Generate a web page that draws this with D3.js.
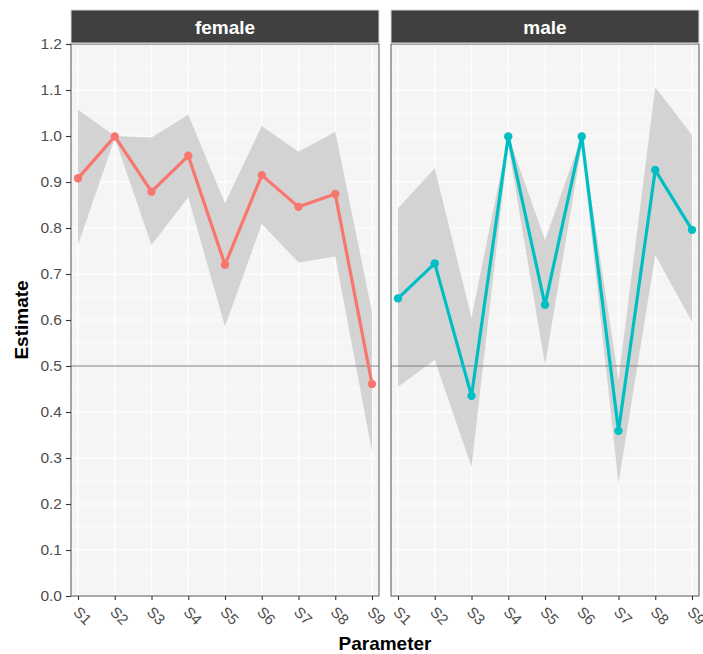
<!DOCTYPE html>
<html>
<head>
<meta charset="utf-8">
<script src="https://cdn.jsdelivr.net/npm/d3@7"></script>
<style>
  body { margin: 0; background: #fff; }
  text { font-family: "Liberation Sans", Arial, sans-serif; }
</style>
</head>
<body>
<svg id="chart" width="703" height="654"></svg>
<script>
// data
var params = ["S1", "S2", "S3", "S4", "S5", "S6", "S7", "S8", "S9"];
var panels = ["female", "male"];
var femaleEst = [0.908, 0.999, 0.879, 0.957, 0.720, 0.915, 0.846, 0.874, 0.461];
var femaleLo  = [0.763, 0.995, 0.763, 0.867, 0.586, 0.809, 0.725, 0.738, 0.314];
var femaleHi  = [1.057, 1.000, 0.997, 1.046, 0.854, 1.022, 0.966, 1.009, 0.618];
var maleEst   = [0.647, 0.723, 0.435, 0.999, 0.633, 0.999, 0.359, 0.926, 0.796];
var maleLo    = [0.455, 0.513, 0.281, 0.980, 0.502, 0.980, 0.245, 0.741, 0.596];
var maleHi    = [0.843, 0.930, 0.605, 1.000, 0.774, 1.000, 0.470, 1.106, 1.002];
var yTicks = [0.0, 0.1, 0.2, 0.3, 0.4, 0.5, 0.6, 0.7, 0.8, 0.9, 1.0, 1.1, 1.2];
var refLine = 0.5;
var colors = ["#F8766D", "#00BFC4"];

var series = [
    { est: femaleEst, lo: femaleLo, hi: femaleHi },
    { est: maleEst, lo: maleLo, hi: maleHi }
];

var svg = d3.select("#chart");

// panel geometry
var panelTop = 44, panelBottom = 596, panelW = 308;
var panelLeft = [71, 391];
var stripTop = 10;

var y = d3.scaleLinear().domain([0, 1.2]).range([panelBottom, panelTop]);
var x = d3.scalePoint().domain(params).range([7, panelW - 7]);

panels.forEach(function (name, p) {
    var s = series[p];
    var g = svg.append("g").attr("transform", "translate(" + panelLeft[p] + ",0)");

    // background
    g.append("rect")
        .attr("x", 0).attr("y", panelTop)
        .attr("width", panelW).attr("height", panelBottom - panelTop)
        .attr("fill", "#F5F5F5");

    // minor grid
    var minor = d3.range(0.05, 1.2, 0.1);
    g.selectAll(".minor").data(minor).enter().append("line")
        .attr("x1", 0).attr("x2", panelW)
        .attr("y1", function (d) { return y(d); })
        .attr("y2", function (d) { return y(d); })
        .attr("stroke", "#fff").attr("stroke-width", 0.6);

    // major grid
    g.selectAll(".majorY").data(yTicks).enter().append("line")
        .attr("x1", 0).attr("x2", panelW)
        .attr("y1", function (d) { return y(d); })
        .attr("y2", function (d) { return y(d); })
        .attr("stroke", "#fff").attr("stroke-width", 1.2);
    g.selectAll(".majorX").data(params).enter().append("line")
        .attr("x1", function (d) { return x(d); })
        .attr("x2", function (d) { return x(d); })
        .attr("y1", panelTop).attr("y2", panelBottom)
        .attr("stroke", "#fff").attr("stroke-width", 1.2);

    // ribbon
    var area = d3.area()
        .x(function (d, i) { return x(params[i]); })
        .y0(function (d, i) { return y(s.lo[i]); })
        .y1(function (d, i) { return y(s.hi[i]); });
    g.append("path")
        .datum(s.est)
        .attr("d", area)
        .attr("fill", "#CFCFCF")
        .attr("opacity", 0.9);

    // reference line
    g.append("line")
        .attr("x1", 0).attr("x2", panelW)
        .attr("y1", y(refLine)).attr("y2", y(refLine))
        .attr("stroke", "#7F7F7F").attr("stroke-width", 1.1);

    // line + points
    var line = d3.line()
        .x(function (d, i) { return x(params[i]); })
        .y(function (d) { return y(d); });
    g.append("path")
        .datum(s.est)
        .attr("d", line)
        .attr("fill", "none")
        .attr("stroke", colors[p])
        .attr("stroke-width", 3.2)
        .attr("stroke-linejoin", "round");
    g.selectAll(".pt").data(s.est).enter().append("circle")
        .attr("cx", function (d, i) { return x(params[i]); })
        .attr("cy", function (d) { return y(d); })
        .attr("r", 4.2)
        .attr("fill", colors[p]);

    // panel border
    g.append("rect")
        .attr("x", 0).attr("y", panelTop)
        .attr("width", panelW).attr("height", panelBottom - panelTop)
        .attr("fill", "none").attr("stroke", "#555").attr("stroke-width", 1);

    // strip
    g.append("rect")
        .attr("x", 0).attr("y", stripTop)
        .attr("width", panelW).attr("height", panelTop - stripTop - 1)
        .attr("fill", "#404040")
        .attr("stroke", "#D9D9D9").attr("stroke-width", 1);
    g.append("text")
        .attr("x", panelW / 2)
        .attr("y", (stripTop + panelTop) / 2 + 6.5)
        .attr("text-anchor", "middle")
        .attr("fill", "#fff")
        .attr("font-weight", "bold")
        .attr("font-size", "19px")
        .text(name);

    // x axis
    var xAxis = g.append("g")
        .attr("transform", "translate(0," + panelBottom + ")")
        .call(d3.axisBottom(x).tickSize(4).tickSizeOuter(0).tickPadding(0));
    xAxis.select(".domain").remove();
    xAxis.selectAll("line").attr("stroke", "#333").attr("stroke-width", 1.1);
    xAxis.selectAll("text")
        .attr("text-anchor", "start")
        .attr("fill", "#4D4D4D")
        .attr("font-size", "15px")
        .attr("dy", null)
        .attr("y", null)
        .attr("transform", "translate(-6,17) rotate(45)");
});

// y axis (left panel only)
var yAxis = svg.append("g")
    .attr("transform", "translate(" + panelLeft[0] + ",0)")
    .call(d3.axisLeft(y).tickValues(yTicks).tickFormat(d3.format(".1f"))
        .tickSize(5).tickSizeOuter(0).tickPadding(4));
yAxis.select(".domain").remove();
yAxis.selectAll("line").attr("stroke", "#333").attr("stroke-width", 1.1);
yAxis.selectAll("text")
    .attr("fill", "#4D4D4D")
    .attr("font-size", "15.5px")
    .attr("font-family", "Liberation Sans, Arial, sans-serif");

// axis titles
svg.append("text")
    .attr("x", (panelLeft[0] + panelLeft[1] + panelW) / 2)
    .attr("y", 650)
    .attr("text-anchor", "middle")
    .attr("font-weight", "bold")
    .attr("font-size", "19px")
    .text("Parameter");

svg.append("text")
    .attr("transform", "translate(28," + (panelTop + panelBottom) / 2 + ") rotate(-90)")
    .attr("text-anchor", "middle")
    .attr("font-weight", "bold")
    .attr("font-size", "19px")
    .text("Estimate");
</script>
</body>
</html>
